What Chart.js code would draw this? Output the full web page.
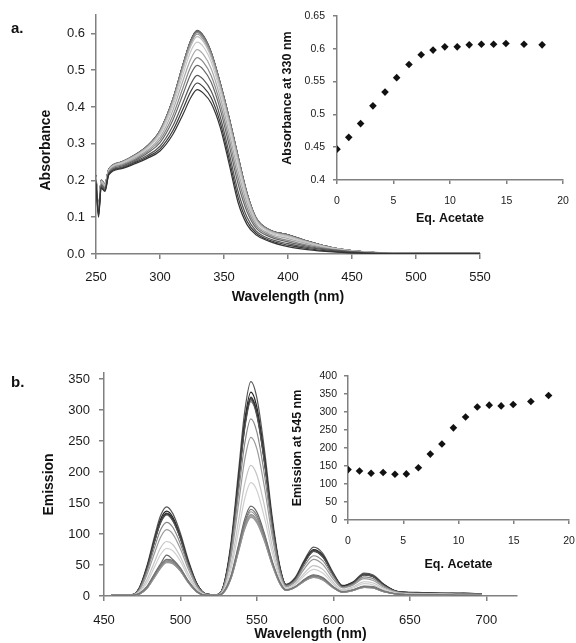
<!DOCTYPE html>
<html>
<head>
<meta charset="utf-8">
<script src="https://cdn.jsdelivr.net/npm/chart.js@4.4.1/dist/chart.umd.min.js"></script>
<style>
  body { margin: 0; background: #fff; font-family: "Liberation Sans", Arial, sans-serif; }
  #page { position: relative; width: 576px; height: 643px; overflow: hidden; }
  .box { position: absolute; }
  .tag { position: absolute; font-weight: bold; font-size: 15px; color: #111; }
</style>
</head>
<body>
<div id="page">
  <div class="box" style="left:0;top:0;width:576px;height:310px"><canvas id="specA"></canvas></div>
  <div class="box" style="left:0;top:320px;width:576px;height:323px"><canvas id="specB"></canvas></div>
  <div class="box" style="left:280px;top:0;width:296px;height:240px"><canvas id="insetA"></canvas></div>
  <div class="box" style="left:280px;top:320px;width:296px;height:260px"><canvas id="insetB"></canvas></div>
  <div class="tag" style="left:11px;top:19px">a.</div>
  <div class="tag" style="left:11px;top:373px">b.</div>
</div>
<script>
//// data ////////////////////////////////////////////////////////////

// equivalents of acetate added (shared by both insets)
const eqAcetate = [0, 1.04, 2.09, 3.18, 4.25, 5.28, 6.37, 7.45, 8.5, 9.54, 10.64, 11.7, 12.78, 13.86, 14.95, 16.55, 18.15];
const abs330 = [0.447, 0.465, 0.486, 0.513, 0.534, 0.556, 0.576, 0.591, 0.598, 0.603, 0.603, 0.606, 0.607, 0.607, 0.608, 0.607, 0.606];
const em545 = [140, 136, 130, 132, 127, 128, 145, 183, 211, 256, 286, 314, 319, 317, 321, 329, 346];

// UV-vis spectra, one row per addition
const wavelengthA = [250, 252, 254, 257, 260, 270, 280, 290, 300, 310, 318, 324, 329, 334, 340, 347, 354, 361, 368, 375, 385, 400, 415, 435, 460, 500, 550];
const absSpectra = [
  [0.19, 0.10, 0.18, 0.17, 0.215, 0.232, 0.245, 0.26, 0.28, 0.325, 0.38, 0.425, 0.447, 0.437, 0.41, 0.345, 0.245, 0.14, 0.08, 0.052, 0.035, 0.02, 0.012, 0.006, 0.002, 0.001, 0.001],
  [0.192, 0.105, 0.18, 0.172, 0.217, 0.234, 0.248, 0.264, 0.286, 0.335, 0.395, 0.442, 0.465, 0.454, 0.425, 0.358, 0.259, 0.154, 0.089, 0.057, 0.038, 0.024, 0.015, 0.007, 0.002, 0.001, 0.001],
  [0.2, 0.11, 0.185, 0.175, 0.219, 0.236, 0.251, 0.268, 0.293, 0.348, 0.412, 0.462, 0.486, 0.474, 0.443, 0.374, 0.275, 0.17, 0.1, 0.063, 0.042, 0.028, 0.018, 0.009, 0.003, 0.001, 0.001],
  [0.198, 0.112, 0.188, 0.178, 0.221, 0.239, 0.254, 0.274, 0.303, 0.364, 0.435, 0.489, 0.513, 0.501, 0.467, 0.394, 0.296, 0.191, 0.115, 0.071, 0.048, 0.033, 0.021, 0.011, 0.004, 0.002, 0.002],
  [0.205, 0.114, 0.19, 0.181, 0.223, 0.242, 0.257, 0.278, 0.31, 0.376, 0.453, 0.509, 0.534, 0.521, 0.485, 0.41, 0.313, 0.208, 0.126, 0.077, 0.052, 0.037, 0.024, 0.012, 0.004, 0.002, 0.002],
  [0.202, 0.116, 0.194, 0.184, 0.225, 0.244, 0.261, 0.282, 0.317, 0.39, 0.472, 0.53, 0.556, 0.542, 0.504, 0.427, 0.33, 0.225, 0.138, 0.083, 0.056, 0.042, 0.028, 0.013, 0.005, 0.002, 0.002],
  [0.207, 0.118, 0.196, 0.186, 0.227, 0.247, 0.264, 0.287, 0.325, 0.402, 0.489, 0.551, 0.576, 0.563, 0.522, 0.442, 0.346, 0.241, 0.149, 0.089, 0.06, 0.046, 0.031, 0.015, 0.005, 0.002, 0.002],
  [0.21, 0.12, 0.198, 0.188, 0.228, 0.248, 0.266, 0.29, 0.33, 0.411, 0.502, 0.565, 0.591, 0.577, 0.534, 0.453, 0.358, 0.253, 0.157, 0.093, 0.063, 0.049, 0.033, 0.016, 0.006, 0.002, 0.002],
  [0.208, 0.121, 0.199, 0.189, 0.229, 0.249, 0.267, 0.291, 0.332, 0.414, 0.507, 0.571, 0.598, 0.583, 0.54, 0.458, 0.363, 0.258, 0.16, 0.095, 0.064, 0.05, 0.034, 0.016, 0.006, 0.002, 0.002],
  [0.212, 0.122, 0.2, 0.19, 0.229, 0.25, 0.267, 0.292, 0.334, 0.418, 0.512, 0.576, 0.603, 0.588, 0.545, 0.462, 0.367, 0.262, 0.163, 0.097, 0.065, 0.051, 0.034, 0.017, 0.006, 0.002, 0.002],
  [0.206, 0.125, 0.201, 0.19, 0.23, 0.25, 0.268, 0.292, 0.334, 0.418, 0.513, 0.577, 0.603, 0.589, 0.545, 0.462, 0.367, 0.262, 0.163, 0.097, 0.065, 0.051, 0.034, 0.017, 0.006, 0.002, 0.002],
  [0.214, 0.12, 0.2, 0.19, 0.23, 0.25, 0.268, 0.293, 0.335, 0.419, 0.514, 0.578, 0.606, 0.59, 0.547, 0.464, 0.369, 0.264, 0.164, 0.098, 0.066, 0.052, 0.035, 0.017, 0.006, 0.002, 0.002],
  [0.21, 0.118, 0.202, 0.191, 0.23, 0.25, 0.268, 0.293, 0.335, 0.42, 0.515, 0.58, 0.607, 0.592, 0.548, 0.465, 0.37, 0.265, 0.165, 0.098, 0.066, 0.052, 0.035, 0.017, 0.006, 0.002, 0.002],
  [0.208, 0.13, 0.198, 0.19, 0.231, 0.251, 0.269, 0.294, 0.336, 0.42, 0.515, 0.58, 0.607, 0.592, 0.547, 0.465, 0.37, 0.265, 0.165, 0.098, 0.066, 0.052, 0.035, 0.017, 0.006, 0.002, 0.002],
  [0.215, 0.12, 0.2, 0.19, 0.23, 0.25, 0.268, 0.293, 0.336, 0.421, 0.516, 0.581, 0.608, 0.593, 0.549, 0.466, 0.371, 0.266, 0.166, 0.099, 0.067, 0.052, 0.035, 0.017, 0.006, 0.002, 0.002],
  [0.21, 0.123, 0.2, 0.19, 0.23, 0.25, 0.268, 0.293, 0.335, 0.42, 0.515, 0.58, 0.607, 0.592, 0.548, 0.465, 0.37, 0.265, 0.165, 0.098, 0.066, 0.052, 0.035, 0.017, 0.006, 0.003, 0.003],
  [0.21, 0.12, 0.2, 0.19, 0.23, 0.25, 0.268, 0.293, 0.335, 0.419, 0.514, 0.578, 0.606, 0.59, 0.547, 0.464, 0.369, 0.264, 0.164, 0.098, 0.066, 0.052, 0.035, 0.017, 0.006, 0.002, 0.002],
];

// emission spectra, one row per addition
const wavelengthB = [455, 468, 473, 478, 483, 487, 491, 495, 500, 505, 511, 517, 523, 528, 533, 538, 542, 546, 550, 555, 560, 565, 569, 575, 581, 587, 593, 600, 606, 613, 620, 626, 633, 642, 655, 670, 685, 697];
const emSpectra = [
  [1, 1, 4, 14, 34, 50, 59, 57, 44, 24, 7, 1, 1, 6, 31, 80, 119, 140, 130, 97, 55, 22, 10, 15, 26, 33, 29, 14, 7, 10, 15, 14, 8, 3, 2, 2, 1, 1],
  [1, 1, 3, 14, 33, 48, 58, 55, 42, 23, 6, 1, 1, 6, 30, 77, 116, 136, 126, 94, 53, 21, 9, 15, 25, 32, 28, 14, 6, 10, 15, 14, 7, 3, 2, 2, 1, 1],
  [1, 1, 3, 12, 31, 46, 55, 53, 41, 22, 6, 1, 1, 5, 29, 74, 111, 130, 121, 90, 51, 20, 9, 14, 24, 31, 27, 13, 6, 9, 14, 13, 7, 3, 2, 2, 1, 1],
  [1, 1, 3, 13, 32, 47, 56, 54, 41, 23, 6, 1, 1, 5, 29, 75, 112, 132, 122, 91, 52, 21, 9, 14, 25, 31, 27, 14, 6, 9, 15, 13, 7, 3, 2, 2, 1, 1],
  [1, 1, 3, 12, 30, 45, 54, 52, 40, 22, 6, 1, 1, 5, 28, 72, 108, 127, 118, 88, 50, 20, 9, 14, 24, 30, 26, 13, 6, 9, 14, 13, 7, 3, 2, 2, 1, 1],
  [1, 1, 3, 12, 30, 45, 55, 52, 40, 22, 6, 1, 1, 5, 28, 73, 109, 128, 119, 89, 50, 20, 9, 14, 24, 30, 26, 13, 6, 9, 14, 13, 7, 3, 2, 2, 1, 1],
  [1, 1, 4, 15, 36, 52, 66, 59, 45, 25, 7, 1, 1, 6, 33, 83, 124, 145, 135, 100, 56, 22, 10, 15, 27, 34, 30, 15, 7, 10, 16, 15, 8, 3, 2, 2, 1, 1],
  [1, 1, 6, 21, 47, 67, 77, 73, 56, 31, 9, 2, 1, 8, 43, 105, 157, 183, 170, 125, 70, 27, 12, 18, 33, 43, 37, 19, 9, 13, 20, 18, 10, 4, 3, 3, 2, 2],
  [1, 1, 7, 26, 55, 78, 88, 83, 63, 36, 11, 2, 1, 9, 50, 122, 181, 211, 195, 144, 80, 31, 13, 20, 37, 49, 43, 22, 10, 15, 23, 21, 12, 5, 3, 3, 2, 2],
  [2, 2, 9, 34, 69, 95, 107, 100, 76, 44, 14, 2, 2, 12, 62, 149, 220, 256, 237, 174, 96, 36, 15, 23, 44, 59, 51, 27, 13, 18, 28, 25, 14, 6, 4, 3, 3, 2],
  [2, 2, 10, 39, 78, 107, 119, 111, 84, 49, 16, 3, 2, 13, 70, 167, 246, 286, 264, 194, 106, 40, 16, 25, 49, 65, 57, 31, 14, 19, 31, 28, 16, 6, 4, 4, 3, 3],
  [2, 2, 12, 43, 87, 118, 131, 121, 92, 53, 17, 3, 2, 14, 77, 183, 270, 314, 290, 213, 116, 44, 18, 27, 53, 72, 63, 34, 15, 21, 34, 31, 17, 7, 5, 4, 4, 3],
  [2, 2, 12, 44, 88, 120, 133, 123, 93, 54, 18, 3, 2, 15, 78, 187, 275, 319, 295, 216, 118, 44, 18, 28, 54, 73, 64, 34, 16, 22, 34, 31, 18, 7, 5, 4, 4, 3],
  [2, 2, 11, 43, 88, 119, 132, 122, 93, 54, 17, 3, 2, 14, 78, 185, 273, 317, 293, 215, 117, 44, 18, 27, 54, 72, 63, 34, 15, 21, 35, 32, 17, 7, 6, 4, 5, 3],
  [2, 2, 12, 44, 89, 120, 134, 124, 94, 55, 18, 3, 2, 15, 79, 188, 277, 321, 296, 217, 119, 45, 18, 28, 55, 73, 64, 35, 16, 22, 35, 32, 18, 7, 5, 5, 4, 3],
  [2, 2, 12, 46, 91, 124, 137, 127, 96, 56, 18, 3, 2, 15, 81, 192, 283, 329, 304, 223, 121, 46, 18, 28, 56, 75, 66, 35, 16, 22, 35, 32, 18, 7, 5, 4, 4, 3],
  [2, 2, 13, 48, 96, 130, 144, 133, 101, 59, 19, 3, 2, 16, 86, 203, 298, 346, 319, 234, 127, 48, 19, 30, 58, 79, 69, 37, 17, 23, 37, 34, 19, 7, 5, 4, 4, 3],
];

// tick values
const absTicks = [0, 0.1, 0.2, 0.3, 0.4, 0.5, 0.6];
const wlTicksA = [250, 300, 350, 400, 450, 500, 550];
const abs330Ticks = [0.4, 0.45, 0.5, 0.55, 0.6, 0.65];
const eqTicks = [0, 5, 10, 15, 20];
const emTicks = [0, 50, 100, 150, 200, 250, 300, 350];
const wlTicksB = [450, 500, 550, 600, 650, 700];
const em545Ticks = [0, 50, 100, 150, 200, 250, 300, 350, 400];

//// styling ////////////////////////////////////////////////////////////

const greysA = ["#333", "#3a3a3a", "#555", "#666", "#888", "#aaa", "#c8c8c8", "#bbb", "#999",
  "#888", "#777", "#6a6a6a", "#666", "#5a5a5a", "#555", "#606060", "#505050"];
const greysB = ["#777", "#888", "#999", "#8a8a8a", "#999", "#a0a0a0", "#666", "#d0d0d0", "#c4c4c4",
  "#9a9a9a", "#888", "#555", "#333", "#444", "#3a3a3a", "#222", "#555"];

Chart.defaults.font.family = '"Liberation Sans", Arial, sans-serif';
Chart.defaults.color = "#1a1a1a";

function axis(c) {
  return {
    type: "linear",
    min: c.min,
    max: c.max,
    afterBuildTicks: (s) => { s.ticks = c.ticks.map((v) => ({ value: v })); },
    afterFit: (s) => {
      if (c.width) s.width = c.width;
      if (c.height) s.height = c.height;
      // plot box is set by layout padding, not by label overhang
      s.paddingLeft = s.paddingRight = s.paddingTop = s.paddingBottom = 0;
    },
    border: { color: "#808080", width: 1.5 },
    grid: { drawOnChartArea: false, color: "#808080", lineWidth: 1.5, tickLength: c.tick },
    ticks: {
      padding: c.pad,
      font: { size: c.fs },
      maxRotation: 0,
      autoSkip: false,
      callback: c.fmt || ((v) => v),
    },
    title: {
      display: true,
      text: c.title,
      color: "#111",
      font: { size: c.tfs, weight: "bold" },
      padding: c.tpad,
    },
  };
}

function spectraSets(xs, rows, greys) {
  return rows.map((row, i) => ({
    data: row.map((y, j) => ({ x: xs[j], y: y })),
    borderColor: greys[i],
    borderWidth: 1.2,
    pointRadius: 0,
    cubicInterpolationMode: "monotone",
    tension: 0.4,
  }));
}

function dots(xs, ys) {
  return {
    data: xs.map((x, i) => ({ x: x, y: ys[i] })),
    pointStyle: "rectRot",
    pointRadius: 3.8,
    backgroundColor: "#111",
    borderColor: "#111",
    borderWidth: 0,
  };
}

const baseOpts = {
  responsive: true,
  maintainAspectRatio: false,
  animation: false,
  events: [],
  plugins: { legend: { display: false }, tooltip: { enabled: false } },
};

//// panel a ////////////////////////////////////////////////////////////

new Chart(document.getElementById("specA"), {
  type: "line",
  data: { datasets: spectraSets(wavelengthA, absSpectra, greysA) },
  options: {
    ...baseOpts,
    layout: { padding: { top: 15, right: 96, left: 0, bottom: 0 } },
    scales: {
      x: axis({ min: 250, max: 550, ticks: wlTicksA, height: 56, tick: 5, pad: 11, fs: 13,
        title: "Wavelength (nm)", tfs: 14, tpad: { top: 0, bottom: 4 } }),
      // trailing spaces push the title a bit lower, like the original
      y: axis({ min: 0, max: 0.65, ticks: absTicks, width: 96, tick: 5, pad: 6, fs: 13,
        fmt: (v) => v.toFixed(1), title: "Absorbance" + "\u00a0".repeat(8), tfs: 14,
        tpad: { top: 38, bottom: 0 } }),
    },
  },
});

new Chart(document.getElementById("insetA"), {
  type: "scatter",
  data: { datasets: [dots(eqAcetate, abs330)] },
  options: {
    ...baseOpts,
    layout: { padding: { top: 16, right: 13, left: 0, bottom: 0 } },
    scales: {
      x: axis({ min: 0, max: 20, ticks: eqTicks, height: 60, tick: 4, pad: 11, fs: 10.5,
        title: "Eq. Acetate", tfs: 12.5, tpad: { top: 0, bottom: 14 } }),
      y: axis({ min: 0.4, max: 0.65, ticks: abs330Ticks, width: 57, tick: 4, pad: 8, fs: 10.5,
        fmt: (v) => String(v), title: "Absorbance at 330 nm", tfs: 12.5, tpad: { top: 0, bottom: 0 } }),
    },
  },
});

//// panel b ////////////////////////////////////////////////////////////

new Chart(document.getElementById("specB"), {
  type: "line",
  data: { datasets: spectraSets(wavelengthB, emSpectra, greysB) },
  options: {
    ...baseOpts,
    layout: { padding: { top: 53, right: 59, left: 0, bottom: 0 } },
    scales: {
      x: axis({ min: 450, max: 720, ticks: wlTicksB, height: 47, tick: 5, pad: 12, fs: 13,
        title: "Wavelength (nm)", tfs: 14, tpad: { top: 0, bottom: 0 } }),
      y: axis({ min: 0, max: 360, ticks: emTicks, width: 104, tick: 5, pad: 9, fs: 13,
        title: "Emission", tfs: 14, tpad: { top: 41, bottom: 0 } }),
    },
  },
});

new Chart(document.getElementById("insetB"), {
  type: "scatter",
  data: { datasets: [dots(eqAcetate, em545)] },
  options: {
    ...baseOpts,
    layout: { padding: { top: 56, right: 7, left: 0, bottom: 0 } },
    scales: {
      x: axis({ min: 0, max: 20, ticks: eqTicks, height: 60, tick: 4, pad: 11, fs: 10.5,
        title: "Eq. Acetate", tfs: 12.5, tpad: { top: 0, bottom: 8 } }),
      y: axis({ min: 0, max: 400, ticks: em545Ticks, width: 68, tick: 4, pad: 7, fs: 10.5,
        title: "Emission at 545 nm", tfs: 12.5, tpad: { top: 10, bottom: 0 } }),
    },
  },
});
</script>
</body>
</html>
